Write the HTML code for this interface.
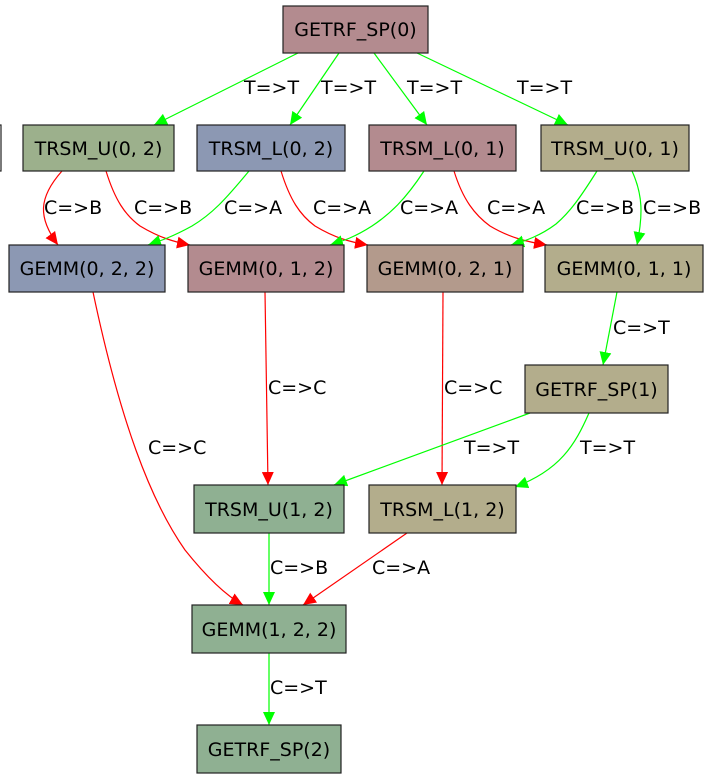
<!DOCTYPE html>
<html><head><meta charset="utf-8"><style>
html,body{margin:0;padding:0;background:#fff;}
svg{display:block;}
text{font-family:"DejaVu Sans","Liberation Sans",sans-serif;font-size:19px;fill:#000;}
</style></head><body>
<svg width="705" height="779" viewBox="0 0 705 779" xmlns="http://www.w3.org/2000/svg">
<defs>
<marker id="g" markerUnits="userSpaceOnUse" markerWidth="14" markerHeight="12" refX="13" refY="6" orient="auto"><path d="M0,0 L13,6 L0,12 z" fill="#00ff00"/></marker>
<marker id="r" markerUnits="userSpaceOnUse" markerWidth="14" markerHeight="12" refX="13" refY="6" orient="auto"><path d="M0,0 L13,6 L0,12 z" fill="#ff0000"/></marker>
</defs>
<g fill="none" stroke-width="1.2">
<path d="M298,53 L154,125" stroke="#00ff00" marker-end="url(#g)"/>
<path d="M339,53 L290,125" stroke="#00ff00" marker-end="url(#g)"/>
<path d="M374,53 L427,125" stroke="#00ff00" marker-end="url(#g)"/>
<path d="M417,53 L568,125" stroke="#00ff00" marker-end="url(#g)"/>
<path d="M62,171 C38,198 38,218 58,245" stroke="#ff0000" marker-end="url(#r)"/>
<path d="M106,171 C115,200 125,215 140,226 C160,238 175,242 190,245" stroke="#ff0000" marker-end="url(#r)"/>
<path d="M249,171 C225,200 212,214 192,226 C172,237 160,241 148,245" stroke="#00ff00" marker-end="url(#g)"/>
<path d="M281,171 C290,200 300,215 315,226 C335,238 350,242 368,245" stroke="#ff0000" marker-end="url(#r)"/>
<path d="M424,171 C405,200 390,214 372,226 C355,237 343,241 330,245" stroke="#00ff00" marker-end="url(#g)"/>
<path d="M454,171 C463,200 475,215 490,226 C510,238 528,242 547,245" stroke="#ff0000" marker-end="url(#r)"/>
<path d="M597,171 C580,198 570,212 556,224 C540,236 525,241 511,245" stroke="#00ff00" marker-end="url(#g)"/>
<path d="M632,171 C643,195 643,215 637,245" stroke="#00ff00" marker-end="url(#g)"/>
<path d="M93,292 C120,420 150,500 185,550 C205,575 225,595 243,605" stroke="#ff0000" marker-end="url(#r)"/>
<path d="M265,292 L268,485" stroke="#ff0000" marker-end="url(#r)"/>
<path d="M443,292 L442,485" stroke="#ff0000" marker-end="url(#r)"/>
<path d="M617,292 L603,365" stroke="#00ff00" marker-end="url(#g)"/>
<path d="M530,413 L334,485" stroke="#00ff00" marker-end="url(#g)"/>
<path d="M589,413 C575,445 560,470 515,487" stroke="#00ff00" marker-end="url(#g)"/>
<path d="M269,533 L269,605" stroke="#00ff00" marker-end="url(#g)"/>
<path d="M407,533 L303,605" stroke="#ff0000" marker-end="url(#r)"/>
<path d="M269,653 L269,725" stroke="#00ff00" marker-end="url(#g)"/>
</g>
<g stroke="#222" stroke-width="1.2">
<rect x="-100" y="125" width="101" height="46" fill="#ffffff"/>
<rect x="283" y="6" width="145" height="47" fill="#b38b8f"/>
<rect x="23" y="125" width="151" height="46" fill="#9cb08c"/>
<rect x="197" y="125" width="148" height="46" fill="#8c98b3"/>
<rect x="369" y="125" width="147" height="46" fill="#b38b8f"/>
<rect x="541" y="125" width="148" height="46" fill="#b3ad8c"/>
<rect x="9" y="245" width="156" height="47" fill="#8c98b3"/>
<rect x="188" y="245" width="156" height="47" fill="#b38b8f"/>
<rect x="367" y="245" width="156" height="47" fill="#b39a8c"/>
<rect x="545" y="245" width="158" height="47" fill="#b3ad8c"/>
<rect x="525" y="365" width="143" height="48" fill="#b3ad8c"/>
<rect x="194" y="485" width="150" height="48" fill="#8fb092"/>
<rect x="369" y="485" width="147" height="48" fill="#b3ad8c"/>
<rect x="192" y="605" width="154" height="48" fill="#8fb092"/>
<rect x="197" y="725" width="144" height="48" fill="#8fb092"/>
</g>
<g text-anchor="middle">
<text x="355.5" y="36">GETRF_SP(0)</text>
<text x="98.5" y="155">TRSM_U(0, 2)</text>
<text x="271" y="155">TRSM_L(0, 2)</text>
<text x="442.5" y="155">TRSM_L(0, 1)</text>
<text x="615" y="155">TRSM_U(0, 1)</text>
<text x="87" y="275">GEMM(0, 2, 2)</text>
<text x="266" y="275">GEMM(0, 1, 2)</text>
<text x="445" y="275">GEMM(0, 2, 1)</text>
<text x="624" y="275">GEMM(0, 1, 1)</text>
<text x="596.5" y="396">GETRF_SP(1)</text>
<text x="269" y="516">TRSM_U(1, 2)</text>
<text x="442.5" y="516">TRSM_L(1, 2)</text>
<text x="269" y="636">GEMM(1, 2, 2)</text>
<text x="269" y="756">GETRF_SP(2)</text>
</g>
<g>
<text x="244" y="94">T=&gt;T</text>
<text x="321" y="94">T=&gt;T</text>
<text x="407" y="94">T=&gt;T</text>
<text x="517" y="94">T=&gt;T</text>
<text x="44" y="214">C=&gt;B</text>
<text x="134" y="214">C=&gt;B</text>
<text x="224" y="214">C=&gt;A</text>
<text x="313" y="214">C=&gt;A</text>
<text x="400" y="214">C=&gt;A</text>
<text x="487" y="214">C=&gt;A</text>
<text x="576" y="214">C=&gt;B</text>
<text x="643" y="214">C=&gt;B</text>
<text x="613" y="334">C=&gt;T</text>
<text x="268" y="394">C=&gt;C</text>
<text x="444" y="394">C=&gt;C</text>
<text x="148" y="454">C=&gt;C</text>
<text x="464" y="454">T=&gt;T</text>
<text x="580" y="454">T=&gt;T</text>
<text x="270" y="574">C=&gt;B</text>
<text x="372" y="574">C=&gt;A</text>
<text x="270" y="694">C=&gt;T</text>
</g>
</svg>
</body></html>
